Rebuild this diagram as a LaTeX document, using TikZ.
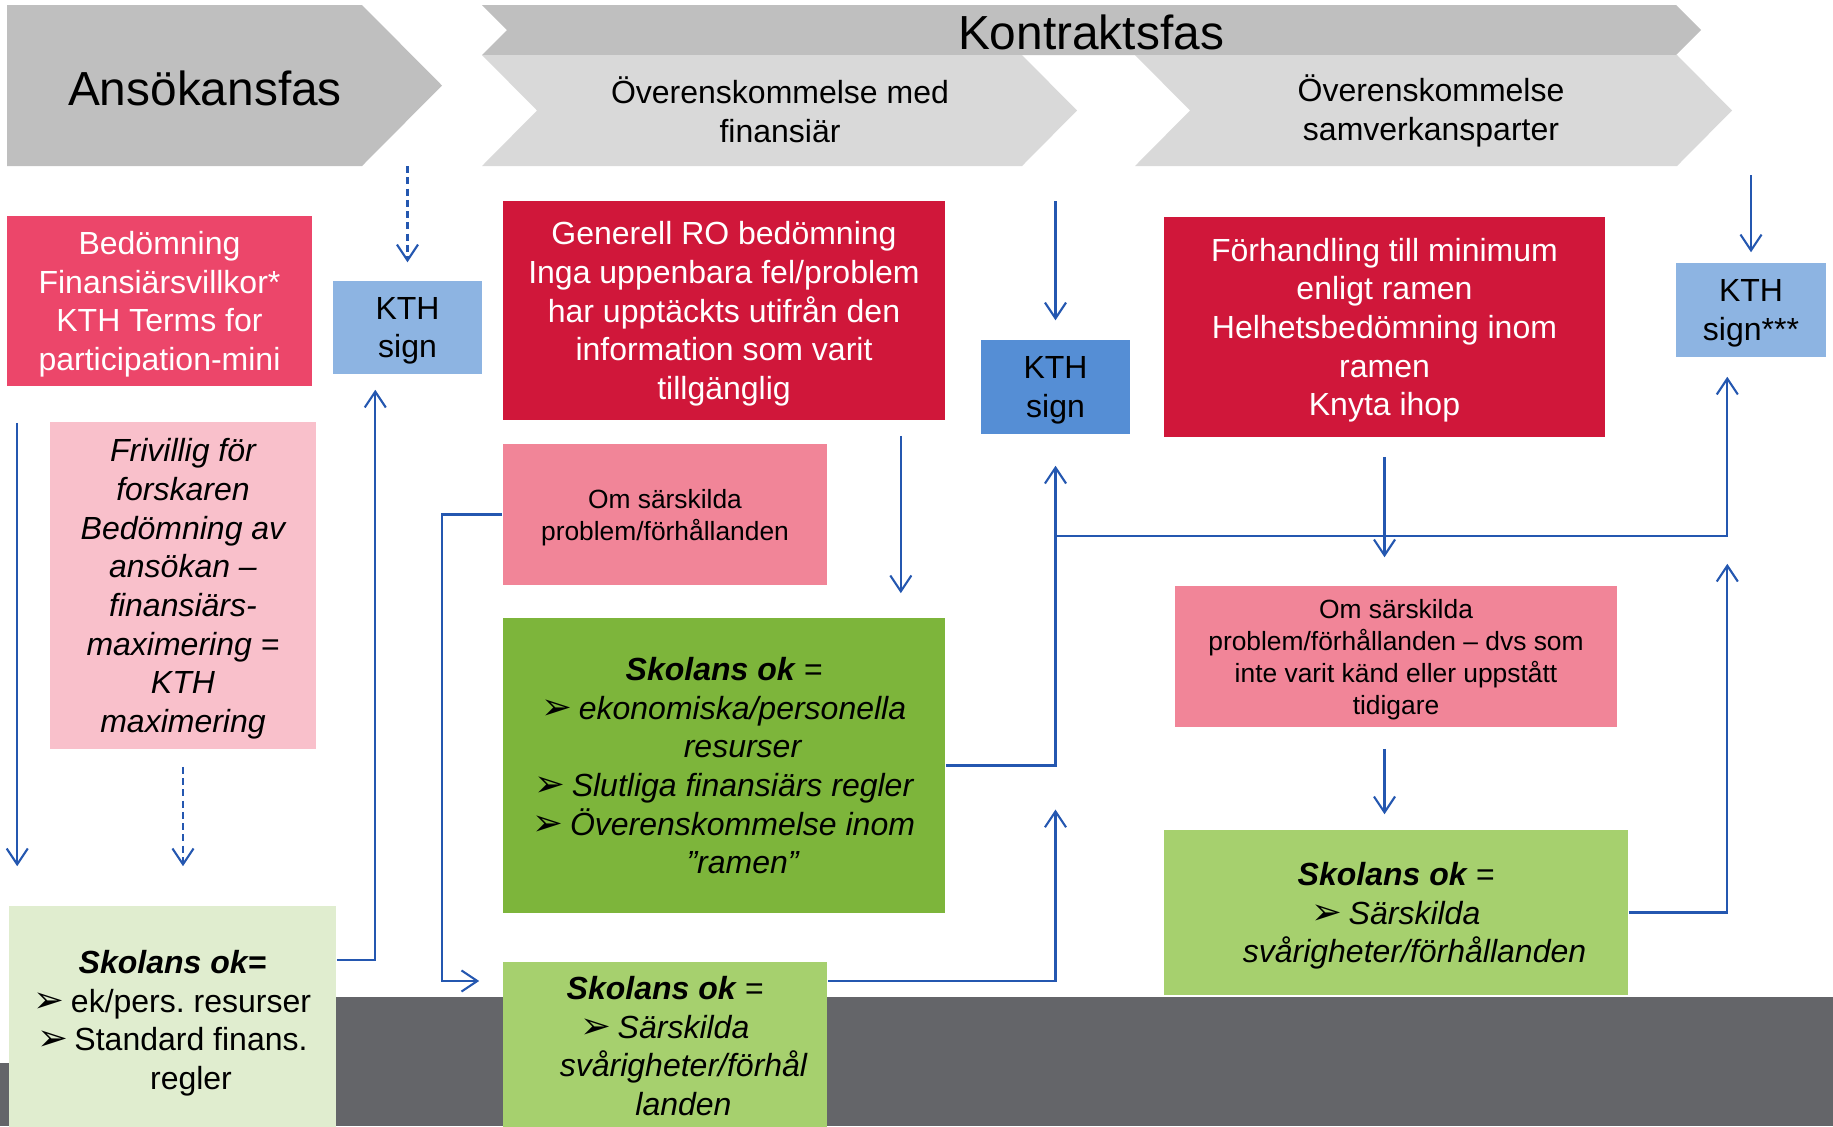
\documentclass[tikz,border=0pt]{standalone}
\usepackage{fontspec}
\setmainfont{Liberation Sans}
\newfontfamily\dejavu{DejaVu Sans}
\usetikzlibrary{arrows.meta}
\frenchspacing

\definecolor{fasmork}{HTML}{BFBFBF}
\definecolor{fasljus}{HTML}{D9D9D9}
\definecolor{kthpink}{HTML}{EC466A}
\definecolor{kthred}{HTML}{D0173A}
\definecolor{ompink}{HTML}{F18598}
\definecolor{frivpink}{HTML}{F9C0CB}
\definecolor{okgreen}{HTML}{7DB53B}
\definecolor{oklight}{HTML}{A6D06E}
\definecolor{okpale}{HTML}{E0EDCF}
\definecolor{signlight}{HTML}{8DB4E2}
\definecolor{signmid}{HTML}{558ED5}
\definecolor{bandgray}{HTML}{646569}
\definecolor{linblue}{HTML}{2457B0}

\newcommand{\pil}{\makebox[0.37cm][l]{\dejavu\fontsize{10.5}{10.5}\selectfont ➢}}
\newcommand{\fort}{\hspace*{0.37cm}}

\tikzset{
  fastext/.style={font=\fontsize{13.6}{16}\selectfont},
  fasrad/.style={align=center, inner sep=0pt, font=\fontsize{9.1}{11}\selectfont},
  box/.style={rectangle, inner sep=0pt, align=center, text depth=-1.1pt,
    font=\fontsize{9.1}{11}\selectfont},
  kursivbox/.style={box, font=\fontsize{9.1}{11}\selectfont\itshape},
  smallbox/.style={box, font=\fontsize{7.5}{9.1}\selectfont},
  arr/.style={draw=linblue, line width=0.6pt, -{Straight Barb[length=4.5pt,width=6pt]}},
  dasharr/.style={arr, dash pattern=on 2pt off 1.2pt},
}

\begin{document}
\begin{tikzpicture}[x=0.01cm, y=-0.01cm]
\useasboundingbox (0,0) rectangle (1833,1126);
% phase header
\fill[fasmork] (7,5) -- (362,5) -- (442,85.5) -- (362,166) -- (7,166) -- cycle;
\fill[fasmork] (482,5) -- (1676,5) -- (1701,30) -- (1676,55) -- (482,55) -- (507,30) -- cycle;
\fill[fasljus] (482,55) -- (1022,55) -- (1077,110.5) -- (1022,166) -- (482,166) -- (537,110.5) -- cycle;
\fill[fasljus] (1135,55) -- (1677,55) -- (1732,110.5) -- (1677,166) -- (1135,166) -- (1190,110.5) -- cycle;
\node[fastext] (ansfas) at (205,88) {Ansökansfas};
\node[fastext] (kontrfas) at (1091,32) {Kontraktsfas};
\node[fasrad] (finfas) at (780,110) {Överenskommelse med\\finansiär};
\node[fasrad] (samfas) at (1431,111) {Överenskommelse\\samverkansparter};
\coordinate (fasbot) at (0,166);

% dark band at the bottom
\fill[bandgray] (9,997) rectangle (1833,1126);
\fill[bandgray] (0,1063) rectangle (9,1126);

% boxes
\node[box, fill=kthpink, text=white, minimum width=3.05cm, minimum height=1.70cm] (bedom) at (159.5,301) {Bedömning\\Finansiärsvillkor*\\KTH Terms for\\participation-mini};
\node[box, fill=signlight, minimum width=1.49cm, minimum height=0.93cm] (sign1) at (407.5,327.5) {KTH\\sign};
\node[kursivbox, fill=frivpink, minimum width=2.66cm, minimum height=3.27cm] (friv) at (183,585.5) {Frivillig för\\forskaren\\Bedömning av\\ansökan –\\finansiärs-\\maximering =\\KTH\\maximering};
\node[box, fill=okpale, minimum width=3.27cm, minimum height=2.28cm] (skolaA) at (172.5,1020) {\textbf{\textit{Skolans ok=}}\\\pil ek/pers. resurser\\\pil Standard finans.\\\fort regler};

\node[box, fill=kthred, text=white, minimum width=4.42cm, minimum height=2.19cm] (generell) at (724,310.5) {Generell RO bedömning\\Inga uppenbara fel/problem\\har upptäckts utifrån den\\information som varit\\tillgänglig};
\node[smallbox, fill=ompink, minimum width=3.24cm, minimum height=1.41cm] (omA) at (665,514.5) {Om särskilda\\problem/förhållanden};
\node[kursivbox, fill=okgreen, minimum width=4.42cm, minimum height=2.95cm] (skolaB) at (724,765.5) {\textbf{Skolans ok} =\\\pil ekonomiska/personella\\\fort resurser\\\pil Slutliga finansiärs regler\\\pil Överenskommelse inom\\\fort ”ramen”};
\node[kursivbox, fill=oklight, minimum width=3.24cm, minimum height=1.68cm] (skolaC) at (665,1046) {\textbf{Skolans ok} =\\\pil Särskilda\\\fort svårigheter/förhål\\\fort landen};
\node[box, fill=signmid, minimum width=1.49cm, minimum height=0.94cm] (sign2) at (1055.5,387) {KTH\\sign};

\node[box, fill=kthred, text=white, minimum width=4.41cm, minimum height=2.20cm] (forhand) at (1384.5,327) {Förhandling till minimum\\enligt ramen\\Helhetsbedömning inom\\ramen\\Knyta ihop};
\node[box, fill=signlight, minimum width=1.50cm, minimum height=0.94cm] (sign3) at (1751,310) {KTH\\sign***};
\node[smallbox, fill=ompink, minimum width=4.42cm, minimum height=1.41cm] (omB) at (1396,656.5) {Om särskilda\\problem/förhållanden – dvs som\\inte varit känd eller uppstått\\tidigare};
\node[kursivbox, fill=oklight, minimum width=4.64cm, minimum height=1.65cm] (skolaD) at (1396,912.5) {\textbf{Skolans ok} =\\\pil Särskilda\\\fort svårigheter/förhållanden};

% helper points
\coordinate (leftrail) at ([xshift=0.11cm]bedom.south west);
\coordinate (genout) at ([xshift=-0.45cm]generell.south east);
\coordinate (railL) at ([yshift=-1.01cm]sign2.south);
\coordinate (sign3in) at ([xshift=0.52cm]sign3.south west);
\coordinate (railR) at (sign3in |- railL);

% connectors
\draw[dasharr, shorten >=0.18cm] (sign1.north |- fasbot) -- (sign1.north);
\draw[arr, shorten <=0.36cm, shorten >=0.39cm] (leftrail) -- (leftrail |- skolaA.north);
\draw[dasharr, shorten <=0.17cm, shorten >=0.39cm] (friv.south) -- (friv.south |- skolaA.north);
\draw[arr, shorten >=0.15cm] ([yshift=0.6cm]skolaA.east) -| ([xshift=0.43cm]sign1.south west);
\draw[arr, shorten >=0.23cm] (omA.west) -- ++(-0.6cm,0) |- ([yshift=0.65cm]skolaC.west);
\draw[arr, shorten <=0.15cm, shorten >=0.24cm] (genout) -- (genout |- skolaB.north);
\draw[arr, shorten <=0.35cm, shorten >=0.19cm] (sign2.north |- fasbot) -- (sign2.north);
\draw[arr, shorten >=0.31cm] (skolaB.east) -| (sign2.south);
\draw[arr, shorten >=0.44cm] ([yshift=0.65cm]skolaC.east) -| (sign2.south |- skolaB.east);
\draw[arr, shorten >=0.19cm] (railL) -- (railR) -- (sign3in);
\draw[arr, shorten <=0.19cm, shorten >=0.28cm] (forhand.south) -- (forhand.south |- omB.north);
\draw[arr, shorten <=0.21cm, shorten >=0.15cm] (forhand.south |- omB.south) -- (forhand.south |- skolaD.north);
\draw[arr, shorten >=0.28cm] (skolaD.east) -| (railR);
\draw[arr, shorten <=0.09cm, shorten >=0.10cm] (sign3.north |- fasbot) -- (sign3.north);
\end{tikzpicture}
\end{document}
